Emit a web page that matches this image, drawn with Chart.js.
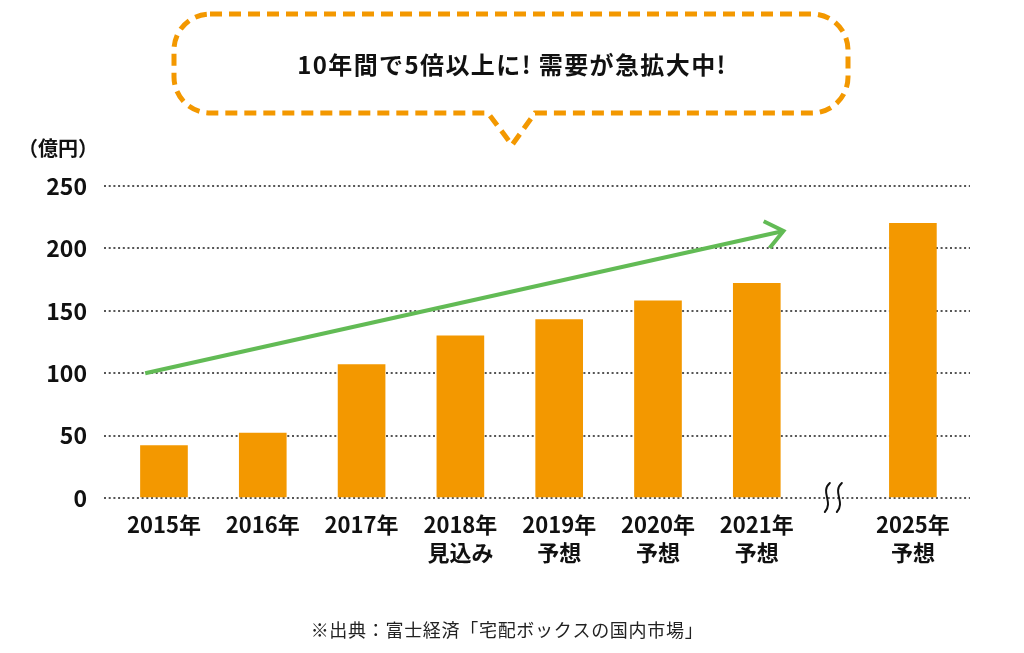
<!DOCTYPE html>
<html><head><meta charset="utf-8">
<script src="https://cdn.jsdelivr.net/npm/chart.js@4.4.0/dist/chart.umd.min.js"></script>
<style>html,body{margin:0;padding:0;background:#fff;}canvas{display:block}</style>
</head><body>
<canvas id="c" width="1024" height="653"></canvas>
<script>
// ---- data ----
const categories = ['2015年','2016年','2017年','2018年','2019年','2020年','2021年','2025年'];
const subLabels  = ['', '', '', '見込み', '予想', '予想', '予想', '予想'];
const values     = [42, 52, 107, 130, 143, 158, 172, 220];
const yTicks     = [0, 50, 100, 150, 200, 250];
const trendX     = [-0.19, 6.27];   // trend arrow, in category-slot units
const trendY     = [100, 214];
const headline   = '10年間で5倍以上に! 需要が急拡大中!';
const unitLabel  = '（億円）';
const sourceNote = '※出典：富士経済「宅配ボックスの国内市場」';

// ---- layout constants ----
const BREAK_SPAN = 1.58;   // axis break: gap between 2021 and 2025 slots
const slot = i => (i < 7 ? i : 6 + BREAK_SPAN);
const FONT = '"Noto Sans CJK JP", "Noto Sans", sans-serif';
const ORANGE = '#F39800';
const GREEN = '#62BB55';

const decor = {
  id: 'decor',
  beforeDraw(chart) {
    const ctx = chart.ctx;
    ctx.save();
    // speech bubble
    const L = 174, T = 14, R = 848, B = 113, r = 36;
    const tl = 488, tr = 535, tipX = 512, tipY = 145;
    ctx.beginPath();
    ctx.moveTo(L + r, T);
    ctx.lineTo(R - r, T);
    ctx.arcTo(R, T, R, T + r, r);
    ctx.lineTo(R, B - r);
    ctx.arcTo(R, B, R - r, B, r);
    ctx.lineTo(tr, B);
    ctx.lineTo(tipX, tipY);
    ctx.lineTo(tl, B);
    ctx.lineTo(L + r, B);
    ctx.arcTo(L, B, L, B - r, r);
    ctx.lineTo(L, T + r);
    ctx.arcTo(L, T, L + r, T, r);
    ctx.closePath();
    ctx.setLineDash([12, 7]);
    ctx.lineWidth = 5;
    ctx.strokeStyle = ORANGE;
    ctx.stroke();
    ctx.setLineDash([]);
    // headline
    ctx.fillStyle = '#111';
    ctx.font = 'bold 24px ' + FONT;
    ctx.textAlign = 'center';
    ctx.textBaseline = 'middle';
    if ('letterSpacing' in ctx) ctx.letterSpacing = '1.4px';
    ctx.fillText(headline, 512, 65);
    if ('letterSpacing' in ctx) ctx.letterSpacing = '0px';
    // unit label
    ctx.font = 'bold 20px ' + FONT;
    ctx.fillText(unitLabel, 58, 148);
    // source
    ctx.font = '18px ' + FONT;
    ctx.fillStyle = '#222';
    if ('letterSpacing' in ctx) ctx.letterSpacing = '0.7px';
    ctx.fillText(sourceNote, 507, 630);
    if ('letterSpacing' in ctx) ctx.letterSpacing = '0px';
    ctx.restore();
  },
  afterDatasetsDraw(chart) {
    const ctx = chart.ctx;
    ctx.save();
    // arrow head on trend line
    const pts = chart.getDatasetMeta(1).data;
    const a = pts[pts.length - 2], b = pts[pts.length - 1];
    const ang = Math.atan2(b.y - a.y, b.x - a.x);
    const len = 22, spread = 38.5 * Math.PI / 180;
    ctx.strokeStyle = GREEN;
    ctx.lineWidth = 4;
    ctx.lineCap = 'butt';
    ctx.lineJoin = 'miter';
    ctx.beginPath();
    ctx.moveTo(b.x + len * Math.cos(ang + Math.PI - spread), b.y + len * Math.sin(ang + Math.PI - spread));
    ctx.lineTo(b.x, b.y);
    ctx.lineTo(b.x + len * Math.cos(ang + Math.PI + spread), b.y + len * Math.sin(ang + Math.PI + spread));
    ctx.stroke();
    // axis break mark
    const xs = chart.scales.x, ys = chart.scales.y;
    const bx = (xs.getPixelForValue(slot(6)) + xs.getPixelForValue(slot(7))) / 2 - 2;
    const by = ys.getPixelForValue(0);
    ctx.strokeStyle = '#111';
    ctx.lineWidth = 2;
    ctx.lineCap = 'round';
    [-6, 6].forEach(dx => {
      const x = bx + dx;
      ctx.beginPath();
      ctx.moveTo(x + 3, by - 15);
      ctx.bezierCurveTo(x - 7, by - 6, x + 7, by + 4, x - 2, by + 14);
      ctx.stroke();
    });
    ctx.restore();
  }
};

new Chart(document.getElementById('c'), {
  type: 'bar',
  data: {
    datasets: [
      {
        type: 'bar',
        data: values.map((v, i) => ({ x: slot(i), y: v })),
        backgroundColor: ORANGE,
        barThickness: 47,
        order: 2
      },
      {
        type: 'line',
        data: trendX.map((x, i) => ({ x: x, y: trendY[i] })),
        borderColor: GREEN,
        borderWidth: 4,
        pointRadius: 0,
        borderCapStyle: 'butt',
        fill: false,
        order: 1
      }
    ]
  },
  options: {
    responsive: false,
    animation: false,
    devicePixelRatio: 1,
    layout: { padding: { top: 186, right: 54, left: 0, bottom: 0 } },
    plugins: { legend: { display: false }, tooltip: { enabled: false } },
    scales: {
      x: {
        type: 'linear',
        min: -0.607,
        max: 8.158,
        offset: false,
        afterBuildTicks: s => { s.ticks = categories.map((c, i) => ({ value: slot(i) })); },
        afterFit: s => { s.height = 155; },
        grid: { display: false, drawTicks: false },
        border: { display: false },
        ticks: {
          autoSkip: false,
          maxRotation: 0,
          padding: 12,
          color: '#111',
          font: { family: FONT, size: 22, weight: 'bold', lineHeight: 1.3 },
          callback: (v, idx) => subLabels[idx] ? [categories[idx], subLabels[idx]] : categories[idx]
        }
      },
      y: {
        min: 0,
        max: 250,
        afterBuildTicks: s => { s.ticks = yTicks.map(v => ({ value: v })); },
        afterFit: s => { s.width = 104; },
        grid: { color: '#555', lineWidth: 2, drawTicks: false },
        border: { display: false, dash: [2, 2.7] },
        ticks: {
          padding: 17,
          color: '#111',
          font: { family: FONT, size: 23, weight: 'bold' }
        }
      }
    }
  },
  plugins: [decor]
});
</script>
</body></html>
